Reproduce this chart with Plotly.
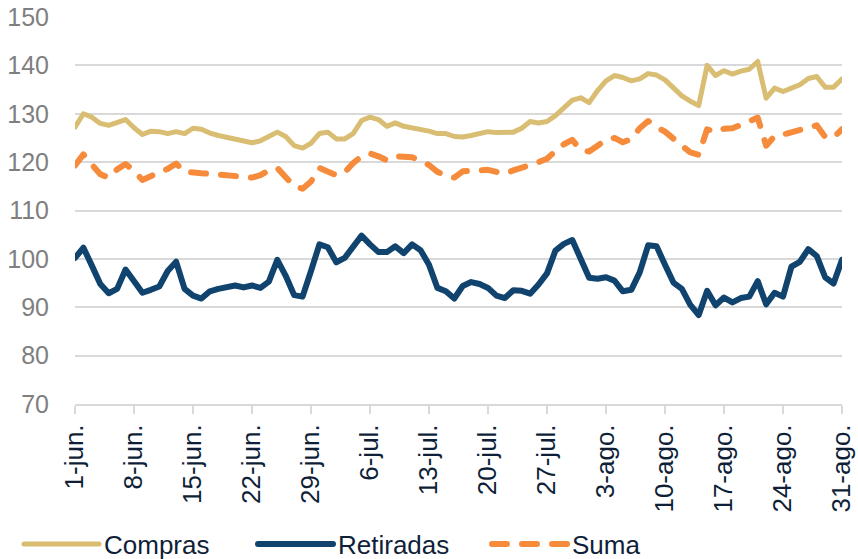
import pandas as pd
import plotly.graph_objects as go

dates = pd.date_range("2020-06-01", "2020-08-31", freq="D")

compras = [
    127.2, 130.0, 129.3, 128.0, 127.6, 128.2, 128.8, 127.1, 125.7, 126.4,
    126.3, 125.9, 126.3, 125.9, 127.0, 126.8, 126.0, 125.5, 125.1, 124.9,
    124.5, 124.0, 124.4, 125.3, 126.2, 125.3, 123.4, 122.9, 123.9, 125.9,
    126.2, 124.8, 124.8, 125.9, 128.6, 129.3, 128.8, 127.4, 128.1, 127.4,
    127.1, 126.8, 126.4, 125.9, 125.9, 125.3, 125.2, 125.5, 125.9, 126.3,
    126.1, 126.1, 126.2, 127.0, 128.4, 128.1, 128.4, 129.6, 131.3, 132.8,
    133.3, 132.3, 134.8, 136.8, 137.9, 137.5, 136.8, 137.2, 138.3, 138.0,
    137.0, 135.2, 133.7, 132.6, 131.7, 140.0, 137.9, 138.9, 138.2, 138.8,
    139.2, 140.8, 133.2, 135.3, 134.6, 135.3, 136.0, 137.3, 137.7, 135.5,
    135.5, 137.2,
]

retiradas = [
    100.2, 102.3, 98.6, 94.8, 92.9, 93.8, 97.8, 95.5, 93.0, 93.6,
    94.3, 97.5, 99.4, 93.8, 92.4, 91.8, 93.3, 93.8, 94.2, 94.5,
    94.1, 94.5, 94.0, 95.3, 99.8, 96.5, 92.5, 92.2, 97.5, 103.0,
    102.4, 99.3, 100.2, 102.5, 104.8, 103.0, 101.4, 101.4, 102.6, 101.2,
    103.0, 101.8, 98.8, 94.0, 93.3, 91.8, 94.4, 95.2, 94.8, 94.0,
    92.4, 91.9, 93.5, 93.4, 92.8, 94.7, 97.0, 101.7, 103.1, 103.9,
    100.0, 96.1, 95.9, 96.2, 95.5, 93.3, 93.6, 97.2, 102.8, 102.6,
    98.8, 95.1, 93.8, 90.5, 88.4, 93.4, 90.4, 92.0, 91.0, 91.9,
    92.2, 95.4, 90.6, 93.0, 92.2, 98.4, 99.4, 102.0, 100.6, 96.2,
    94.9, 99.8,
]

suma = [
    119.3, 121.6, 119.5, 117.5, 116.8, 118.5, 119.6, 118.2, 116.3, 117.2,
    117.9, 118.6, 119.7, 118.0, 117.7, 117.7, 117.6, 117.4, 117.4, 117.2,
    116.9, 116.8, 117.3, 118.3, 118.8, 117.0, 115.0, 114.5, 116.0, 118.8,
    118.0, 117.3, 117.9, 119.8, 121.2, 121.8, 121.2, 120.4, 121.2, 121.2,
    121.0, 120.3, 119.4, 118.0, 117.2, 116.8, 118.1, 118.2, 118.4, 118.4,
    118.0, 117.6, 118.3, 119.0, 119.4, 120.0, 120.7, 122.3, 123.7, 124.6,
    122.5, 122.2, 123.4, 124.6, 125.0, 124.1, 124.8, 127.0, 128.5, 127.2,
    126.3, 124.7, 123.4, 122.0, 121.5, 126.8, 126.2, 126.9, 127.0, 127.7,
    128.4, 129.2, 123.4, 125.4, 125.7, 126.2, 126.9, 127.4, 127.6, 125.2,
    125.1, 126.8,
]

tick_dates = ["2020-06-01", "2020-06-08", "2020-06-15", "2020-06-22", "2020-06-29",
              "2020-07-06", "2020-07-13", "2020-07-20", "2020-07-27", "2020-08-03",
              "2020-08-10", "2020-08-17", "2020-08-24", "2020-08-31"]
tick_labels = ["1-jun.", "8-jun.", "15-jun.", "22-jun.", "29-jun.", "6-jul.", "13-jul.",
               "20-jul.", "27-jul.", "3-ago.", "10-ago.", "17-ago.", "24-ago.", "31-ago."]

FONT = "Liberation Sans, Arial, sans-serif"
TXT = "#0f1f38"

fig = go.Figure()
fig.add_trace(go.Scatter(x=dates, y=compras, name="Compras", mode="lines",
                         line=dict(color="#D8BD72", width=5)))
fig.add_trace(go.Scatter(x=dates, y=retiradas, name="Retiradas", mode="lines",
                         line=dict(color="#10446E", width=6)))
fig.add_trace(go.Scatter(x=dates, y=suma, name="Suma", mode="lines",
                         line=dict(color="#F68B3C", width=6, dash="15px,15px")))

fig.update_layout(
    width=858, height=559,
    margin=dict(l=75, r=16, t=17, b=155, autoexpand=False),
    paper_bgcolor="white", plot_bgcolor="white",
    font=dict(family=FONT, size=26, color=TXT),
    showlegend=True,
    legend=dict(orientation="h", x=-0.073, xanchor="left", y=-0.362, yanchor="middle",
                itemwidth=75, entrywidth=144, entrywidthmode="pixels",
                font=dict(family=FONT, size=26, color=TXT),
                bgcolor="rgba(0,0,0,0)", tracegroupgap=0),
    xaxis=dict(
        type="date", automargin=False,
        range=[dates[0], dates[-1]],
        tickmode="array", tickvals=tick_dates, ticktext=tick_labels,
        tickangle=-90,
        tickfont=dict(family=FONT, size=26, color=TXT),
        showgrid=False, zeroline=False,
        showline=True, linecolor="#d9d9d9", linewidth=2,
        ticks="outside", ticklen=8, tickwidth=2, tickcolor="#d9d9d9",
    ),
    yaxis=dict(
        range=[70, 150], tickmode="linear", tick0=70, dtick=10, automargin=False,
        tickfont=dict(family=FONT, size=25, color="#7f7f7f"),
        showgrid=True, gridcolor="#d9d9d9", gridwidth=2,
        zeroline=False, showline=False, ticks="",
        ticklabelstandoff=25,
    ),
)

post = """
var s = document.createElement('style');
s.textContent = 'html,body{margin:0;padding:0;overflow:hidden;} ' +
  '.js-line, .legendlines path{stroke-linecap:round !important; stroke-linejoin:round !important;}';
document.head.appendChild(s);
"""
fig.write_html("out.html", post_script=post, config={"displayModeBar": False})
